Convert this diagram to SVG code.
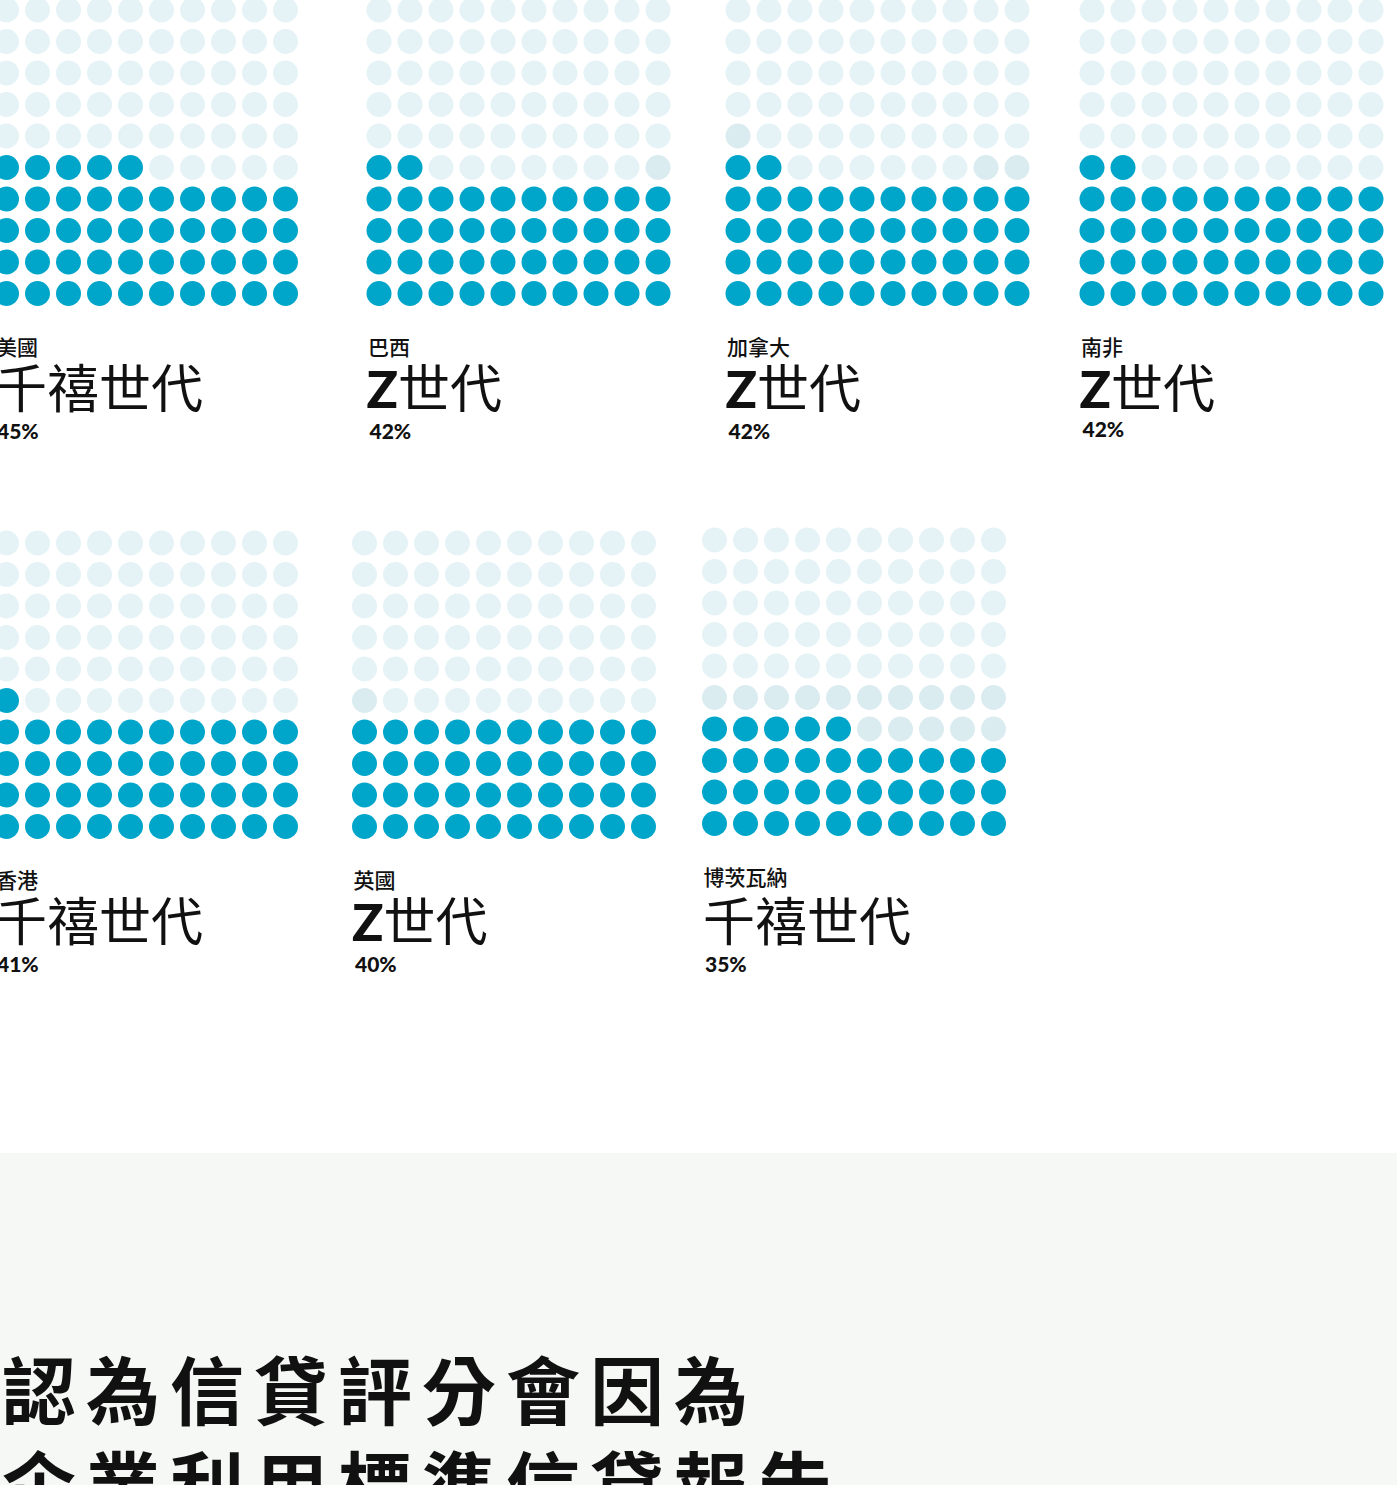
<svg xmlns="http://www.w3.org/2000/svg" xmlns:xlink="http://www.w3.org/1999/xlink" width="1397" height="1485" viewBox="0 0 1397 1485">
<style>
.b{fill:#00A6CA}
.l{fill:#E5F3F7}
.d{fill:#DBECF1}
.lab{font-family:"Noto Sans CJK TC","Noto Sans CJK SC",sans-serif;font-size:21px;font-weight:500;fill:#111}
.big{font-family:"Noto Sans CJK TC","Noto Sans CJK SC",sans-serif;font-size:52px;font-weight:400;fill:#111}
.z{font-family:Lato,"Noto Sans",sans-serif;font-weight:900}
.pct{font-family:Lato,"Noto Sans",sans-serif;font-size:21px;font-weight:900;fill:#111}
.head{font-family:"Noto Sans CJK TC","Noto Sans CJK SC",sans-serif;font-size:74px;font-weight:700;letter-spacing:10px;fill:#111}
</style>
<defs>
<g id="rl"><circle class="l" cx="0" cy="0" r="12.5"/><circle class="l" cx="31" cy="0" r="12.5"/><circle class="l" cx="62" cy="0" r="12.5"/><circle class="l" cx="93" cy="0" r="12.5"/><circle class="l" cx="124" cy="0" r="12.5"/><circle class="l" cx="155" cy="0" r="12.5"/><circle class="l" cx="186" cy="0" r="12.5"/><circle class="l" cx="217" cy="0" r="12.5"/><circle class="l" cx="248" cy="0" r="12.5"/><circle class="l" cx="279" cy="0" r="12.5"/></g>
<g id="rb"><circle class="b" cx="0" cy="0" r="12.5"/><circle class="b" cx="31" cy="0" r="12.5"/><circle class="b" cx="62" cy="0" r="12.5"/><circle class="b" cx="93" cy="0" r="12.5"/><circle class="b" cx="124" cy="0" r="12.5"/><circle class="b" cx="155" cy="0" r="12.5"/><circle class="b" cx="186" cy="0" r="12.5"/><circle class="b" cx="217" cy="0" r="12.5"/><circle class="b" cx="248" cy="0" r="12.5"/><circle class="b" cx="279" cy="0" r="12.5"/></g>
<g id="rd"><circle class="d" cx="0" cy="0" r="12.5"/><circle class="d" cx="31" cy="0" r="12.5"/><circle class="d" cx="62" cy="0" r="12.5"/><circle class="d" cx="93" cy="0" r="12.5"/><circle class="d" cx="124" cy="0" r="12.5"/><circle class="d" cx="155" cy="0" r="12.5"/><circle class="d" cx="186" cy="0" r="12.5"/><circle class="d" cx="217" cy="0" r="12.5"/><circle class="d" cx="248" cy="0" r="12.5"/><circle class="d" cx="279" cy="0" r="12.5"/></g>
</defs>
<rect x="0" y="0" width="1397" height="1485" fill="#FFFFFF"/>

<g id="card-us">
<use href="#rl" x="6.5" y="10"/><use href="#rl" x="6.5" y="41.5"/><use href="#rl" x="6.5" y="73"/><use href="#rl" x="6.5" y="104.5"/><use href="#rl" x="6.5" y="136"/>
<circle class="b" cx="6.5" cy="167.5" r="12.5"/><circle class="b" cx="37.5" cy="167.5" r="12.5"/><circle class="b" cx="68.5" cy="167.5" r="12.5"/><circle class="b" cx="99.5" cy="167.5" r="12.5"/><circle class="b" cx="130.5" cy="167.5" r="12.5"/><circle class="l" cx="161.5" cy="167.5" r="12.5"/><circle class="l" cx="192.5" cy="167.5" r="12.5"/><circle class="l" cx="223.5" cy="167.5" r="12.5"/><circle class="l" cx="254.5" cy="167.5" r="12.5"/><circle class="l" cx="285.5" cy="167.5" r="12.5"/>
<use href="#rb" x="6.5" y="199"/><use href="#rb" x="6.5" y="230.5"/><use href="#rb" x="6.5" y="262"/><use href="#rb" x="6.5" y="293.5"/>
<text class="lab" x="-4" y="355">美國</text>
<text class="big" x="-5" y="408">千禧世代</text>
<text class="pct" x="-3" y="439">45%</text>
</g>

<g id="card-brazil">
<use href="#rl" x="379" y="10"/><use href="#rl" x="379" y="41.5"/><use href="#rl" x="379" y="73"/><use href="#rl" x="379" y="104.5"/><use href="#rl" x="379" y="136"/>
<circle class="b" cx="379" cy="167.5" r="12.5"/><circle class="b" cx="410" cy="167.5" r="12.5"/><circle class="l" cx="441" cy="167.5" r="12.5"/><circle class="l" cx="472" cy="167.5" r="12.5"/><circle class="l" cx="503" cy="167.5" r="12.5"/><circle class="l" cx="534" cy="167.5" r="12.5"/><circle class="l" cx="565" cy="167.5" r="12.5"/><circle class="l" cx="596" cy="167.5" r="12.5"/><circle class="l" cx="627" cy="167.5" r="12.5"/><circle class="d" cx="658" cy="167.5" r="12.5"/>
<use href="#rb" x="379" y="199"/><use href="#rb" x="379" y="230.5"/><use href="#rb" x="379" y="262"/><use href="#rb" x="379" y="293.5"/>
<text class="lab" x="368" y="355">巴西</text>
<text class="big" x="366.5" y="408"><tspan class="z">Z</tspan>世代</text>
<text class="pct" x="369.5" y="439">42%</text>
</g>

<g id="card-canada">
<use href="#rl" x="738" y="10"/><use href="#rl" x="738" y="41.5"/><use href="#rl" x="738" y="73"/><use href="#rl" x="738" y="104.5"/>
<circle class="d" cx="738" cy="136" r="12.5"/><circle class="l" cx="769" cy="136" r="12.5"/><circle class="l" cx="800" cy="136" r="12.5"/><circle class="l" cx="831" cy="136" r="12.5"/><circle class="l" cx="862" cy="136" r="12.5"/><circle class="l" cx="893" cy="136" r="12.5"/><circle class="l" cx="924" cy="136" r="12.5"/><circle class="l" cx="955" cy="136" r="12.5"/><circle class="l" cx="986" cy="136" r="12.5"/><circle class="l" cx="1017" cy="136" r="12.5"/>
<circle class="b" cx="738" cy="167.5" r="12.5"/><circle class="b" cx="769" cy="167.5" r="12.5"/><circle class="l" cx="800" cy="167.5" r="12.5"/><circle class="l" cx="831" cy="167.5" r="12.5"/><circle class="l" cx="862" cy="167.5" r="12.5"/><circle class="l" cx="893" cy="167.5" r="12.5"/><circle class="l" cx="924" cy="167.5" r="12.5"/><circle class="l" cx="955" cy="167.5" r="12.5"/><circle class="d" cx="986" cy="167.5" r="12.5"/><circle class="d" cx="1017" cy="167.5" r="12.5"/>
<use href="#rb" x="738" y="199"/><use href="#rb" x="738" y="230.5"/><use href="#rb" x="738" y="262"/><use href="#rb" x="738" y="293.5"/>
<text class="lab" x="727" y="355">加拿大</text>
<text class="big" x="725.5" y="408"><tspan class="z">Z</tspan>世代</text>
<text class="pct" x="728.5" y="439">42%</text>
</g>

<g id="card-southafrica">
<use href="#rl" x="1092" y="10"/><use href="#rl" x="1092" y="41.5"/><use href="#rl" x="1092" y="73"/><use href="#rl" x="1092" y="104.5"/><use href="#rl" x="1092" y="136"/>
<circle class="b" cx="1092" cy="167.5" r="12.5"/><circle class="b" cx="1123" cy="167.5" r="12.5"/><circle class="l" cx="1154" cy="167.5" r="12.5"/><circle class="l" cx="1185" cy="167.5" r="12.5"/><circle class="l" cx="1216" cy="167.5" r="12.5"/><circle class="l" cx="1247" cy="167.5" r="12.5"/><circle class="l" cx="1278" cy="167.5" r="12.5"/><circle class="l" cx="1309" cy="167.5" r="12.5"/><circle class="l" cx="1340" cy="167.5" r="12.5"/><circle class="l" cx="1371" cy="167.5" r="12.5"/>
<use href="#rb" x="1092" y="199"/><use href="#rb" x="1092" y="230.5"/><use href="#rb" x="1092" y="262"/><use href="#rb" x="1092" y="293.5"/>
<text class="lab" x="1081" y="355">南非</text>
<text class="big" x="1079.5" y="408"><tspan class="z">Z</tspan>世代</text>
<text class="pct" x="1082.5" y="437">42%</text>
</g>

<g id="card-hongkong">
<use href="#rl" x="6.5" y="543"/><use href="#rl" x="6.5" y="574.5"/><use href="#rl" x="6.5" y="606"/><use href="#rl" x="6.5" y="637.5"/><use href="#rl" x="6.5" y="669"/>
<circle class="b" cx="6.5" cy="700.5" r="12.5"/><circle class="l" cx="37.5" cy="700.5" r="12.5"/><circle class="l" cx="68.5" cy="700.5" r="12.5"/><circle class="l" cx="99.5" cy="700.5" r="12.5"/><circle class="l" cx="130.5" cy="700.5" r="12.5"/><circle class="l" cx="161.5" cy="700.5" r="12.5"/><circle class="l" cx="192.5" cy="700.5" r="12.5"/><circle class="l" cx="223.5" cy="700.5" r="12.5"/><circle class="l" cx="254.5" cy="700.5" r="12.5"/><circle class="l" cx="285.5" cy="700.5" r="12.5"/>
<use href="#rb" x="6.5" y="732"/><use href="#rb" x="6.5" y="763.5"/><use href="#rb" x="6.5" y="795"/><use href="#rb" x="6.5" y="826.5"/>
<text class="lab" x="-4" y="888">香港</text>
<text class="big" x="-5" y="941">千禧世代</text>
<text class="pct" x="-3" y="972">41%</text>
</g>

<g id="card-uk">
<use href="#rl" x="364.5" y="543"/><use href="#rl" x="364.5" y="574.5"/><use href="#rl" x="364.5" y="606"/><use href="#rl" x="364.5" y="637.5"/><use href="#rl" x="364.5" y="669"/>
<circle class="d" cx="364.5" cy="700.5" r="12.5"/><circle class="l" cx="395.5" cy="700.5" r="12.5"/><circle class="l" cx="426.5" cy="700.5" r="12.5"/><circle class="l" cx="457.5" cy="700.5" r="12.5"/><circle class="l" cx="488.5" cy="700.5" r="12.5"/><circle class="l" cx="519.5" cy="700.5" r="12.5"/><circle class="l" cx="550.5" cy="700.5" r="12.5"/><circle class="l" cx="581.5" cy="700.5" r="12.5"/><circle class="l" cx="612.5" cy="700.5" r="12.5"/><circle class="l" cx="643.5" cy="700.5" r="12.5"/>
<use href="#rb" x="364.5" y="732"/><use href="#rb" x="364.5" y="763.5"/><use href="#rb" x="364.5" y="795"/><use href="#rb" x="364.5" y="826.5"/>
<text class="lab" x="353.5" y="888">英國</text>
<text class="big" x="352" y="941"><tspan class="z">Z</tspan>世代</text>
<text class="pct" x="355" y="972">40%</text>
</g>

<g id="card-botswana">
<use href="#rl" x="714.5" y="540"/><use href="#rl" x="714.5" y="571.5"/><use href="#rl" x="714.5" y="603"/><use href="#rl" x="714.5" y="634.5"/><use href="#rl" x="714.5" y="666"/>
<use href="#rd" x="714.5" y="697.5"/>
<circle class="b" cx="714.5" cy="729" r="12.5"/><circle class="b" cx="745.5" cy="729" r="12.5"/><circle class="b" cx="776.5" cy="729" r="12.5"/><circle class="b" cx="807.5" cy="729" r="12.5"/><circle class="b" cx="838.5" cy="729" r="12.5"/><circle class="d" cx="869.5" cy="729" r="12.5"/><circle class="d" cx="900.5" cy="729" r="12.5"/><circle class="d" cx="931.5" cy="729" r="12.5"/><circle class="d" cx="962.5" cy="729" r="12.5"/><circle class="d" cx="993.5" cy="729" r="12.5"/>
<use href="#rb" x="714.5" y="760.5"/><use href="#rb" x="714.5" y="792"/><use href="#rb" x="714.5" y="823.5"/>
<text class="lab" x="703.5" y="885">博茨瓦納</text>
<text class="big" x="703" y="941">千禧世代</text>
<text class="pct" x="705" y="972">35%</text>
</g>

<g id="connectors"></g>

<g id="footer">
<rect x="0" y="1153" width="1397" height="332" fill="#F6F8F6"/>
<text class="head" x="2" y="1419">認為信貸評分會因為</text>
<text class="head" x="2" y="1514">企業利用標準信貸報告</text>
</g>
</svg>
